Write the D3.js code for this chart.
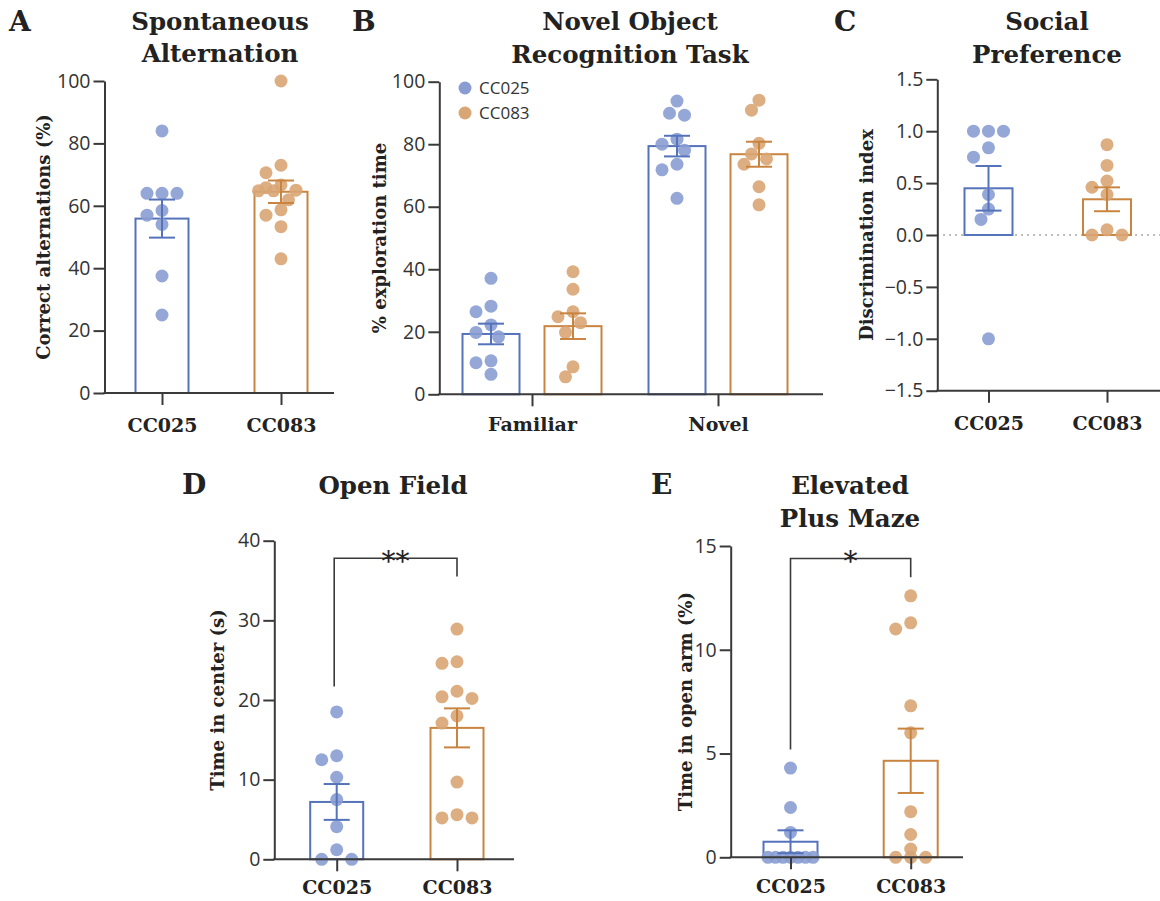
<!DOCTYPE html>
<html lang="en">
<head>
    <meta charset="UTF-8">
    <script src="https://d3js.org/d3.v7.min.js"></script>
    <style>
        body { margin: 0; background: white; }
        text.title, text.letter, text.ylab, .xaxis text { font-family: "DejaVu Serif", serif; font-weight: bold; fill: #222; }
        .yaxis text { font-family: "Open Sans", "DejaVu Sans", sans-serif; fill: #333; }
        .legend text { font-family: "Open Sans", "DejaVu Sans", sans-serif; fill: #333; }
    </style>
</head>
<body>
    <svg id="chart" width="1160" height="901"></svg>

    <script>
        const groups = ["CC025", "CC083"];
        const objects = ["Familiar", "Novel"];

        // A - spontaneous alternation (%)
        const altCC025 = [84, 64, 64, 64, 58.5, 57, 54, 37.5, 25];
        const altCC083 = [100, 73, 70.6, 66.7, 65.8, 65, 64.8, 64.8, 61.9, 58.7, 57, 53.3, 43];
        const altMean = [55.9, 64.5];
        const altSem = [6.1, 3.6];

        // B - novel object recognition (% exploration time)
        const famCC025 = [37.1, 28.2, 26.4, 22.2, 19.8, 18.4, 10.7, 10.1, 6.4];
        const famCC083 = [39.2, 33.6, 26.4, 24.8, 22.9, 19.8, 8.8, 5.6];
        const novCC025 = [93.8, 89.9, 89.3, 81.6, 80, 78.1, 73.6, 71.8, 62.7];
        const novCC083 = [94.1, 90.9, 80.3, 76.9, 75.3, 73.6, 66.4, 60.6];
        const famMean = [19.3, 21.8], famSem = [3.3, 4.1];
        const novMean = [79.4, 76.8], novSem = [3.3, 4.0];

        // C - social preference (discrimination index)
        const spCC025 = [1, 1, 1, 0.84, 0.75, 0.39, 0.25, 0.15, -1];
        const spCC083 = [0.87, 0.67, 0.52, 0.46, 0.39, 0.05, 0, 0];
        const spMean = [0.45, 0.344];
        const spSem = [0.215, 0.115];

        // D - open field (s)
        const ofCC025 = [18.5, 13, 12.5, 10.3, 7.5, 4.1, 1.2, 0, 0];
        const ofCC083 = [28.9, 24.8, 24.6, 21.1, 20.4, 20.2, 18, 17.1, 9.7, 5.6, 5.2, 5.2];
        const ofMean = [7.2, 16.5];
        const ofSem = [2.25, 2.45];

        // E - elevated plus maze (%)
        const epmCC025 = [4.3, 2.4, 1.2, 0, 0, 0, 0, 0, 0, 0];
        const epmCC083 = [12.6, 11.3, 11, 7.3, 6, 2.2, 1.1, 0.4, 0, 0, 0];
        const epmMean = [0.75, 4.65];
        const epmSem = [0.55, 1.55];

        // significance brackets: top, left leg end, right leg end, label
        const ofSig = { top: 37.8, left: 21.7, right: 35.5, label: "**" };
        const epmSig = { top: 14.4, left: 5.2, right: 13.5, label: "*" };

        const dotColor = { CC025: "#8a9dd2", CC083: "#d8a574" };
        const lineColor = { CC025: "#5573bb", CC083: "#c98440" };
        const axisColor = "#3a3a3a";
        const R = 6.5;

        const svg = d3.select("#chart");

        // simple beeswarm: dots with close values sit side by side,
        // squeezed (overlapping) when they would not fit inside maxOff
        function swarm(values, y, cx, maxOff) {
            const placed = [];
            const minD = 2 * R * 0.95;
            const step = 7.5;
            const offs = [0];
            for (let k = 1; k * step <= maxOff; k++) offs.push(-k * step, k * step);
            [...values].sort((a, b) => b - a).forEach(v => {
                const py = y(v);
                let best = null, bestD = -1;
                for (const off of offs) {
                    const px = cx + off;
                    const d = placed.length ? d3.min(placed, p => Math.hypot(p.x - px, p.y - py)) : Infinity;
                    if (d >= minD) { best = px; break; }
                    if (d > bestD) { bestD = d; best = px; }
                }
                placed.push({ x: best, y: py });
            });
            return placed;
        }

        function panel(p) {
            const g = svg.append("g");

            g.append("text").attr("class", "letter")
                .attr("x", p.letterX).attr("y", p.letterY)
                .style("font-size", "28px").text(p.letter);

            p.title.forEach((t, i) => {
                g.append("text").attr("class", "title")
                    .attr("x", p.titleX).attr("y", p.titleY[i])
                    .attr("text-anchor", "middle")
                    .style("font-size", "24.5px").text(t);
            });

            const y = d3.scaleLinear().domain(p.domain).range([p.yBot, p.yTop]);

            // zero reference line
            if (p.zeroLine) {
                g.append("line")
                    .attr("x1", p.axisX).attr("x2", p.xEnd)
                    .attr("y1", y(0)).attr("y2", y(0))
                    .attr("stroke", "#8a8a8a").attr("stroke-width", 1.5)
                    .attr("stroke-dasharray", "1.5,4.5");
            }

            // bars, dots, error bars
            p.series.forEach(s => {
                const cx = s.cx;
                const top = y(Math.max(s.mean, 0)), base = y(Math.min(s.mean, 0));
                g.append("rect")
                    .attr("x", cx - p.barW / 2).attr("y", top)
                    .attr("width", p.barW).attr("height", base - top)
                    .attr("fill", "none")
                    .attr("stroke", lineColor[s.group]).attr("stroke-width", 2);

                g.selectAll(null)
                    .data(swarm(s.values, y, cx, p.barW / 2))
                    .enter().append("circle")
                    .attr("cx", d => d.x).attr("cy", d => d.y).attr("r", R)
                    .attr("fill", dotColor[s.group]).attr("fill-opacity", 0.9);

                const hi = y(s.mean + s.sem), lo = y(s.mean - s.sem);
                const cap = 13;
                const eb = g.append("g").attr("stroke", lineColor[s.group]).attr("stroke-width", 2);
                eb.append("line").attr("x1", cx).attr("x2", cx).attr("y1", hi).attr("y2", lo);
                eb.append("line").attr("x1", cx - cap).attr("x2", cx + cap).attr("y1", hi).attr("y2", hi);
                eb.append("line").attr("x1", cx - cap).attr("x2", cx + cap).attr("y1", lo).attr("y2", lo);
            });

            // y axis
            const yAxis = g.append("g").attr("class", "yaxis")
                .attr("transform", `translate(${p.axisX},0)`)
                .call(d3.axisLeft(y).tickValues(p.ticks).tickFormat(p.fmt || d3.format("d"))
                    .tickSize(11).tickSizeOuter(0).tickPadding(3));
            yAxis.selectAll("path, line").attr("stroke", axisColor).attr("stroke-width", 2);
            yAxis.selectAll("text").style("font-size", "19.5px");

            // x axis
            const xAxis = g.append("g").attr("class", "xaxis")
                .attr("transform", `translate(0,${p.yBot})`)
                .call(d3.axisBottom(p.x).tickSize(12).tickSizeOuter(0));
            xAxis.select(".domain").remove();
            xAxis.selectAll("line").attr("stroke", axisColor).attr("stroke-width", 2);
            xAxis.selectAll("text")
                .attr("y", p.xlabDy).attr("dy", null)
                .style("font-size", p.xlabSize || "19px");
            g.append("line")
                .attr("x1", p.axisX - 1).attr("x2", p.xEnd)
                .attr("y1", p.yBot).attr("y2", p.yBot)
                .attr("stroke", axisColor).attr("stroke-width", 2);

            g.append("text").attr("class", "ylab")
                .attr("transform", `translate(${p.ylabX},${(p.yTop + p.yBot) / 2}) rotate(-90)`)
                .attr("text-anchor", "middle")
                .style("font-size", "18px").text(p.ylab);

            if (p.sig) {
                const [x1, x2] = p.sigX;
                const s = p.sig;
                g.append("path")
                    .attr("d", `M${x1},${y(s.left)}V${y(s.top)}H${x2}V${y(s.right)}`)
                    .attr("fill", "none").attr("stroke", axisColor).attr("stroke-width", 1.6);
                g.append("text").attr("class", "title")
                    .attr("x", (x1 + x2) / 2).attr("y", y(s.top) + 13)
                    .attr("text-anchor", "middle").style("font-size", "28px").style("font-weight", "normal")
                    .text(s.label);
            }
            return y;
        }

        function pairScale(c1, c2) {
            return d3.scalePoint().domain(groups).range([c1, c2]);
        }

        // A
        const xA = pairScale(162, 281);
        panel({
            letter: "A", letterX: 9, letterY: 31,
            title: ["Spontaneous", "Alternation"], titleX: 220, titleY: [30, 62],
            domain: [0, 100], ticks: [0, 20, 40, 60, 80, 100],
            axisX: 104.5, yTop: 81, yBot: 393, xEnd: 334, x: xA, barW: 53, xlabDy: 39,
            ylab: "Correct alternations (%)", ylabX: 50,
            series: [
                { group: "CC025", cx: xA("CC025"), values: altCC025, mean: altMean[0], sem: altSem[0] },
                { group: "CC083", cx: xA("CC083"), values: altCC083, mean: altMean[1], sem: altSem[1] }
            ]
        });

        // B
        const xB = d3.scalePoint().domain(objects).range([439, 811]).padding(0.5);
        const xBsub = d3.scalePoint().domain(groups).range([-41, 41]);
        panel({
            letter: "B", letterX: 352, letterY: 31,
            title: ["Novel Object", "Recognition Task"], titleX: 630, titleY: [30, 63],
            domain: [0, 100], ticks: [0, 20, 40, 60, 80, 100],
            axisX: 439.3, yTop: 81.7, yBot: 394.3, xEnd: 823, x: xB, barW: 57, xlabDy: 37, xlabSize: "19px",
            ylab: "% exploration time", ylabX: 386,
            series: [
                { group: "CC025", cx: xB("Familiar") + xBsub("CC025"), values: famCC025, mean: famMean[0], sem: famSem[0] },
                { group: "CC083", cx: xB("Familiar") + xBsub("CC083"), values: famCC083, mean: famMean[1], sem: famSem[1] },
                { group: "CC025", cx: xB("Novel") + xBsub("CC025"), values: novCC025, mean: novMean[0], sem: novSem[0] },
                { group: "CC083", cx: xB("Novel") + xBsub("CC083"), values: novCC083, mean: novMean[1], sem: novSem[1] }
            ]
        });
        const legend = svg.append("g").attr("class", "legend");
        groups.forEach((gname, i) => {
            legend.append("circle").attr("cx", 465).attr("cy", 88 + i * 25).attr("r", R)
                .attr("fill", dotColor[gname]);
            legend.append("text").attr("x", 479).attr("y", 88 + i * 25 + 6)
                .style("font-size", "17px").text(gname);
        });

        // C
        const xC = pairScale(988.5, 1107);
        panel({
            letter: "C", letterX: 834, letterY: 31,
            title: ["Social", "Preference"], titleX: 1047, titleY: [30, 63],
            domain: [-1.5, 1.5], ticks: [-1.5, -1, -0.5, 0, 0.5, 1, 1.5], fmt: d3.format(".1f"),
            axisX: 937.3, yTop: 79.3, yBot: 390.7, xEnd: 1160, x: xC, barW: 48, zeroLine: true, xlabDy: 39,
            ylab: "Discrimination index", ylabX: 873,
            series: [
                { group: "CC025", cx: xC("CC025"), values: spCC025, mean: spMean[0], sem: spSem[0] },
                { group: "CC083", cx: xC("CC083"), values: spCC083, mean: spMean[1], sem: spSem[1] }
            ]
        });

        // D
        const xD = pairScale(336.7, 457);
        panel({
            letter: "D", letterX: 182, letterY: 494,
            title: ["Open Field"], titleX: 393, titleY: [494],
            domain: [0, 40], ticks: [0, 10, 20, 30, 40],
            axisX: 274.3, yTop: 540.7, yBot: 859.3, xEnd: 514, x: xD, barW: 53, xlabDy: 35,
            ylab: "Time in center (s)", ylabX: 224,
            sig: ofSig, sigX: [xD("CC025") - 2.5, xD("CC083")],
            series: [
                { group: "CC025", cx: xD("CC025"), values: ofCC025, mean: ofMean[0], sem: ofSem[0] },
                { group: "CC083", cx: xD("CC083"), values: ofCC083, mean: ofMean[1], sem: ofSem[1] }
            ]
        });

        // E
        const xE = pairScale(790.5, 910.7);
        panel({
            letter: "E", letterX: 651, letterY: 494,
            title: ["Elevated", "Plus Maze"], titleX: 850, titleY: [494, 527],
            domain: [0, 15], ticks: [0, 5, 10, 15],
            axisX: 730.7, yTop: 546, yBot: 857.3, xEnd: 963, x: xE, barW: 54, xlabDy: 36,
            ylab: "Time in open arm (%)", ylabX: 692,
            sig: epmSig, sigX: [xE("CC025"), xE("CC083")],
            series: [
                { group: "CC025", cx: xE("CC025"), values: epmCC025, mean: epmMean[0], sem: epmSem[0] },
                { group: "CC083", cx: xE("CC083"), values: epmCC083, mean: epmMean[1], sem: epmSem[1] }
            ]
        });
    </script>
</body>
</html>
